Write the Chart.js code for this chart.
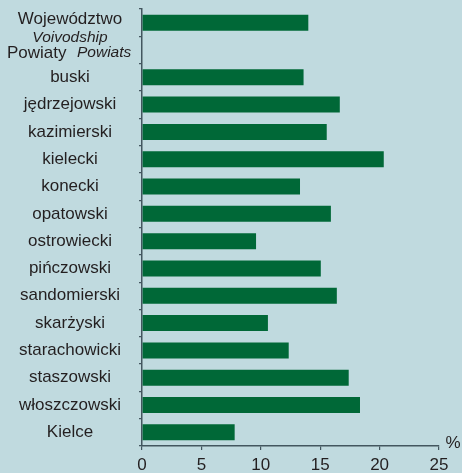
<!DOCTYPE html>
<html>
<head>
<meta charset="utf-8">
<script src="https://cdn.jsdelivr.net/npm/chart.js@4.4.1/dist/chart.umd.min.js"></script>
<style>
  html, body { margin: 0; padding: 0; background: #c0dadf; }
  #wrap { width: 462px; height: 473px; position: relative; }
</style>
</head>
<body>
<div id="wrap"><canvas id="myChart"></canvas></div>
<script>
// categories (first two have a Polish + English italic part)
const categories = ['Województwo', 'Powiaty', 'buski', 'jędrzejowski', 'kazimierski', 'kielecki',
  'konecki', 'opatowski', 'ostrowiecki', 'pińczowski', 'sandomierski', 'skarżyski',
  'starachowicki', 'staszowski', 'włoszczowski', 'Kielce'];
const italicParts = ['Voivodship', 'Powiats'];
const values = [14.0, null, 13.6, 16.65, 15.55, 20.35, 13.3, 15.9, 9.6, 15.05, 16.4, 10.6,
  12.35, 17.4, 18.35, 7.8];
const xTicks = [0, 5, 10, 15, 20, 25];
const unitLabel = '%';

const axisColor = '#43565f';
const textColor = '#231f20';
const barColor = '#006837';

const labelPlugin = {
  id: 'catLabels',
  afterDraw(chart) {
    const ctx = chart.ctx;
    const y = chart.scales.y;
    const x = chart.scales.x;
    const cx = 70;
    ctx.save();
    ctx.fillStyle = textColor;
    ctx.textBaseline = 'middle';
    categories.forEach((cat, i) => {
      const py = y.getPixelForValue(i);
      if (i === 0) {
        ctx.textAlign = 'center';
        ctx.font = '17px "Liberation Sans", Arial, sans-serif';
        ctx.fillText(cat, cx, py - 3);
        ctx.font = 'italic 15.5px "Liberation Sans", Arial, sans-serif';
        ctx.fillText(italicParts[0], cx, py + 15);
      } else if (i === 1) {
        ctx.textAlign = 'left';
        ctx.font = '17px "Liberation Sans", Arial, sans-serif';
        ctx.fillText(cat, 7, py + 3);
        ctx.font = 'italic 15.5px "Liberation Sans", Arial, sans-serif';
        ctx.fillText(italicParts[1], 77, py + 3);
      } else {
        ctx.textAlign = 'center';
        ctx.font = '17px "Liberation Sans", Arial, sans-serif';
        ctx.fillText(cat, cx, py);
      }
    });
    // unit label at the end of the x axis
    ctx.textAlign = 'center';
    ctx.font = '17px "Liberation Sans", Arial, sans-serif';
    ctx.fillText(unitLabel, x.right + 14, x.top - 3);
    ctx.restore();
  }
};

const canvas = document.getElementById('myChart');
const myChart = new Chart(canvas, {
  type: 'bar',
  data: {
    labels: categories,
    datasets: [{
      data: values,
      backgroundColor: barColor,
      borderWidth: 0,
      barPercentage: 0.585,
      categoryPercentage: 1
    }]
  },
  options: {
    indexAxis: 'y',
    responsive: true,
    maintainAspectRatio: false,
    animation: false,
    layout: { padding: { top: 9, right: 23, bottom: 0, left: 0 } },
    plugins: {
      legend: { display: false },
      tooltip: { enabled: false }
    },
    scales: {
      x: {
        min: 0,
        max: 25,
        afterBuildTicks: (scale) => { scale.ticks = xTicks.map(v => ({ value: v })); },
        afterFit: (scale) => { scale.height = 27; },
        border: { display: true, color: axisColor, width: 1.5 },
        grid: { drawOnChartArea: false, color: axisColor, tickLength: 4, lineWidth: 1.2 },
        ticks: {
          color: textColor,
          padding: 5,
          maxRotation: 0,
          font: { family: '"Liberation Sans", Arial, sans-serif', size: 17 }
        }
      },
      y: {
        afterFit: (scale) => { scale.width = 142; },
        border: { display: true, color: axisColor, width: 1.5 },
        grid: { drawOnChartArea: false, color: axisColor, tickLength: 3, lineWidth: 1.2, offset: true },
        ticks: { callback: () => '', padding: 0 }
      }
    }
  },
  plugins: [labelPlugin]
});
</script>
</body>
</html>
